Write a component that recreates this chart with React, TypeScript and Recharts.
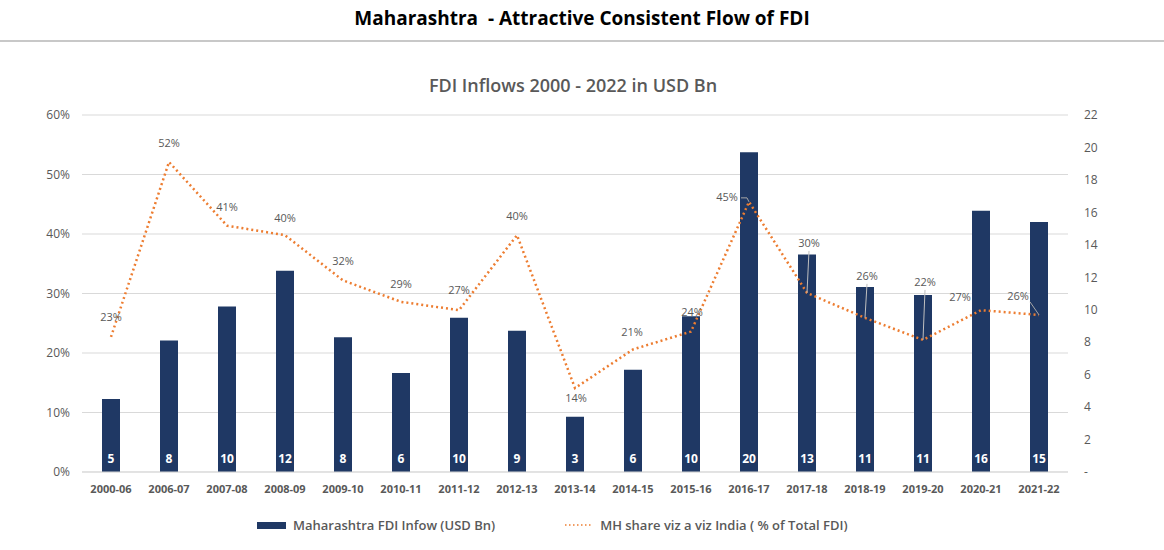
import React from "react";
import {
  ComposedChart,
  Bar,
  Line,
  XAxis,
  YAxis,
  CartesianGrid,
  Legend,
  LabelList,
} from "recharts";

const periods = [
  "2000-06", "2006-07", "2007-08", "2008-09", "2009-10", "2010-11",
  "2011-12", "2012-13", "2013-14", "2014-15", "2015-16", "2016-17",
  "2017-18", "2018-19", "2019-20", "2020-21", "2021-22",
];

// Maharashtra FDI inflow, USD Bn (right axis)
const mhFdi = [4.5, 8.1, 10.2, 12.4, 8.3, 6.1, 9.5, 8.7, 3.4, 6.3, 9.6, 19.7, 13.4, 11.4, 10.9, 16.1, 15.4];

// MH share of India's total FDI (left axis)
const mhShare = [0.227, 0.521, 0.414, 0.398, 0.322, 0.286, 0.272, 0.398, 0.141, 0.206, 0.236, 0.454, 0.301, 0.259, 0.222, 0.272, 0.264];

const pctTicks = [0, 0.1, 0.2, 0.3, 0.4, 0.5, 0.6];
const usdTicks = [0, 2, 4, 6, 8, 10, 12, 14, 16, 18, 20, 22];

// where each % label sits relative to its point [dx, dy], and whether a leader line is drawn
const labelShift = [
  [0, -19], [0, -18], [0, -18], [0, -16], [0, -18], [0, -17],
  [0, -19], [0, -18], [1, 11], [-1, -16], [1, -19], [-22, -4],
  [2, -49], [2, -41], [2, -57], [-21, -12], [-21, -18],
];
const leaderAt = [11, 12, 13, 14, 16];

const chartData = periods.map((period, i) => ({
  period,
  fdi: mhFdi[i],
  share: mhShare[i],
}));

const FONT = "'Liberation Sans Narrow', 'Open Sans', sans-serif";
const GREY = "#595959";
const NAVY = "#1f3864";
const ORANGE = "#ed7d31";

const ShareLabel = (props: any) => {
  const { x, y, value, index } = props;
  const [dx, dy] = labelShift[index] || [0, -18];
  const lx = x + dx;
  const ly = y + dy;
  let leader = null;
  if (leaderAt.includes(index)) {
    if (dx < -15 && dy > -8) {
      // hook from right end of label to the point
      leader = (
        <polyline
          points={`${lx + 14},${ly} ${x - 2},${ly} ${x},${y}`}
          fill="none"
          stroke="#a6a6a6"
          strokeWidth={1}
        />
      );
    } else if (dx < -15) {
      leader = <line x1={lx + 12} y1={ly + 5} x2={x} y2={y} stroke="#a6a6a6" strokeWidth={1} />;
    } else {
      leader = <line x1={lx} y1={ly + 7} x2={x} y2={y} stroke="#bfbfbf" strokeWidth={1} />;
    }
  }
  return (
    <g>
      {leader}
      <text x={lx} y={ly} textAnchor="middle" dominantBaseline="middle" fill={GREY} fontSize={11}>
        {Math.round(value * 100)}%
      </text>
    </g>
  );
};

const LegendBox = () => (
  <div
    style={{
      display: "flex",
      alignItems: "center",
      marginLeft: 257,
      marginTop: 6,
      height: 34,
      fontSize: 13,
      fontWeight: 600,
      color: GREY,
    }}
  >
    <span style={{ width: 29, height: 7, background: NAVY, marginRight: 7 }} />
    <span>Maharashtra FDI Infow (USD Bn)</span>
    <svg width={28} height={4} style={{ marginLeft: 70, marginRight: 7 }}>
      <line x1={0} y1={2} x2={28} y2={2} stroke={ORANGE} strokeWidth={1.5} strokeDasharray="1.5 2.5" />
    </svg>
    <span>MH share viz a viz India ( % of Total FDI)</span>
  </div>
);

export default function App() {
  return (
    <div style={{ position: "relative", width: 1164, height: 550, fontFamily: FONT, background: "#fff" }}>
      <style>{`body { margin: 0; }`}</style>
      <div
        style={{
          position: "absolute",
          top: 5,
          width: "100%",
          textAlign: "center",
          fontSize: 19,
          fontWeight: "bold",
          color: "#000",
          whiteSpace: "pre",
        }}
      >
        Maharashtra  - Attractive Consistent Flow of FDI
      </div>
      <div style={{ position: "absolute", top: 40, left: 0, width: "100%", height: 2, background: "#c8c8c8" }} />
      <div
        style={{
          position: "absolute",
          top: 73,
          left: 0,
          width: 1146,
          textAlign: "center",
          fontSize: 18,
          fontWeight: 600,
          color: GREY,
        }}
      >
        FDI Inflows 2000 - 2022 in USD Bn
      </div>
      <ComposedChart
        width={1164}
        height={550}
        data={chartData}
        margin={{ top: 115, right: 0, left: 0, bottom: 8 }}
      >
        <CartesianGrid yAxisId="pct" vertical={false} stroke="#d9d9d9" />
        <XAxis
          dataKey="period"
          height={30}
          tickLine={false}
          tickMargin={7}
          axisLine={{ stroke: "#d9d9d9" }}
          tick={{ fill: GREY, fontSize: 11, fontWeight: "bold" }}
          interval={0}
        />
        <YAxis
          yAxisId="pct"
          width={82}
          domain={[0, 0.6]}
          ticks={pctTicks}
          tickFormatter={(v: number) => `${Math.round(v * 100)}%`}
          axisLine={false}
          tickLine={false}
          tickMargin={6}
          tick={{ fill: GREY, fontSize: 12 }}
        />
        <YAxis
          yAxisId="usd"
          orientation="right"
          width={96}
          domain={[0, 22]}
          ticks={usdTicks}
          tickFormatter={(v: number) => (v === 0 ? "-" : `${v}`)}
          axisLine={false}
          tickLine={false}
          tickMargin={10}
          tick={{ fill: GREY, fontSize: 12, textAnchor: "start" }}
        />
        <Legend verticalAlign="bottom" wrapperStyle={{ height: 40 }} content={<LegendBox />} />
        <Bar yAxisId="usd" dataKey="fdi" fill={NAVY} barSize={18} isAnimationActive={false}>
          <LabelList
            dataKey="fdi"
            position="insideBottom"
            offset={9}
            fill="#fff"
            fontSize={12}
            fontWeight="bold"
            formatter={(v: any) => Math.round(Number(v))}
          />
        </Bar>
        <Line
          yAxisId="pct"
          dataKey="share"
          type="linear"
          stroke={ORANGE}
          strokeWidth={2.5}
          strokeDasharray="2 3"
          dot={false}
          isAnimationActive={false}
        >
          <LabelList dataKey="share" content={<ShareLabel />} />
        </Line>
      </ComposedChart>
    </div>
  );
}
